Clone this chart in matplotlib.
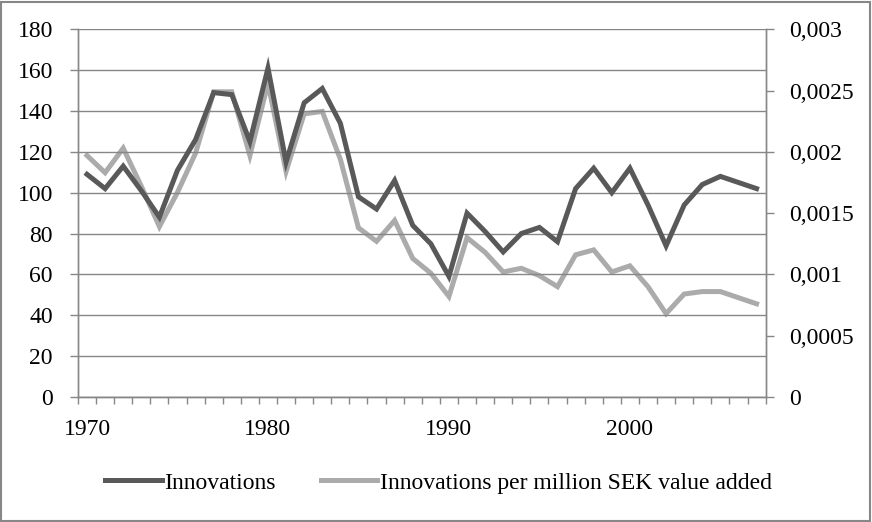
import matplotlib
matplotlib.use("Agg")
import matplotlib.pyplot as plt
from matplotlib.ticker import MultipleLocator, FixedLocator, FuncFormatter
from matplotlib.patches import Rectangle

# data
years = list(range(1970, 2008))
innovations = [109, 102, 113, 101, 88, 111, 126, 149, 148, 125,
               161, 115, 144, 151, 134, 98, 92, 106, 84, 75,
               59, 90, 81, 71, 80, 83, 76, 102, 112, 100,
               112, 94, 74, 94, 104, 108, 105, 102]
per_million_sek = [0.00197, 0.00183, 0.00203, 0.00172, 0.00139, 0.00167, 0.00199, 0.00249, 0.00249, 0.00197,
                   0.00256, 0.00184, 0.00231, 0.00233, 0.00194, 0.00138, 0.00127, 0.00144, 0.00113, 0.00101,
                   0.00082, 0.00130, 0.00118, 0.00102, 0.00105, 0.00099, 0.00090, 0.00116, 0.00120, 0.00102,
                   0.00107, 0.00090, 0.00068, 0.00084, 0.00086, 0.00086, 0.00081, 0.00076]
year_labels = ["1970", "1980", "1990", "2000"]

dark = "#595959"
light = "#ababab"
grid_col = "#878787"

plt.rcParams['font.family'] = ['Liberation Serif', 'DejaVu Serif']
plt.rcParams['font.size'] = 17

fig = plt.figure(figsize=(8.72, 5.22), dpi=100)
ax = fig.add_axes([0.0894, 0.2395, 0.7886, 0.7044])
ax2 = ax.twinx()

x = list(range(len(years)))
l1, = ax.plot(x, innovations, color=dark, lw=3.6, solid_joinstyle='miter', zorder=3)
l2, = ax2.plot(x, per_million_sek, color=light, lw=3.6, solid_joinstyle='miter', zorder=2)

ax.set_xlim(-0.5, len(years) - 0.5)
ax.set_ylim(0, 180)
ax2.set_ylim(0, 0.003)

ax.yaxis.set_major_locator(MultipleLocator(20))
ax2.yaxis.set_major_locator(MultipleLocator(0.0005))
ax2.yaxis.set_major_formatter(FuncFormatter(lambda v, p: ('%g' % v).replace('.', ',')))

# year labels every ten categories, tick marks on category boundaries
ax.xaxis.set_major_locator(FixedLocator([years.index(int(y)) for y in year_labels]))
ax.set_xticklabels(year_labels)
ax.xaxis.set_minor_locator(FixedLocator([i - 0.5 for i in range(len(years) + 1)]))
ax.tick_params(axis='x', which='major', length=0, pad=16)
ax.tick_params(axis='x', which='minor', length=5, width=1, color=grid_col, direction='out')
ax.tick_params(axis='y', length=6, width=1, color=grid_col, direction='out', pad=12)
ax2.tick_params(axis='y', length=6, width=1, color=grid_col, direction='out', pad=11)

ax.grid(axis='y', color=grid_col, lw=1)
ax.set_axisbelow(True)
for a in (ax, ax2):
    a.spines['top'].set_visible(False)
    for s in ('left', 'right', 'bottom'):
        a.spines[s].set_color(grid_col)
        a.spines[s].set_linewidth(1)

# draw the dark line above the light one
ax.set_zorder(ax2.get_zorder() + 1)
ax.patch.set_visible(False)

fig.legend([l1, l2], ["Innovations", "Innovations per million SEK value added"],
           loc='center', bbox_to_anchor=(0.503, 0.075), ncol=2, frameon=False,
           handlelength=2.4, handletextpad=0.1, columnspacing=1.9)

fig.patches.append(Rectangle((0.001, 0.001), 0.997, 0.996, transform=fig.transFigure,
                             fill=False, edgecolor=grid_col, lw=1.5))

fig.savefig("out.png", dpi=100)
